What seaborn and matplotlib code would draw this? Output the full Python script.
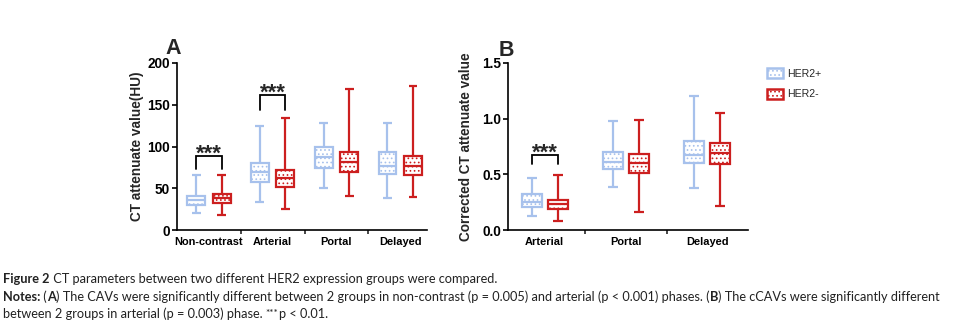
import matplotlib
matplotlib.use("Agg")
import matplotlib.pyplot as plt
import matplotlib.patches as mpatches
import seaborn as sns
import pandas as pd
import numpy as np

# ---------------- data ----------------
phases_a = ["Non-contrast", "Arterial", "Portal", "Delayed"]
phases_b = ["Arterial", "Portal", "Delayed"]
groups = ["HER2+", "HER2-"]
stat_names = ["min", "q1", "median", "q3", "max"]

# panel A: CT attenuate value (HU) - min, Q1, median, Q3, max
a_her2_pos = [[20, 30, 35.5, 41, 66],
              [33, 58, 70, 80, 124],
              [50, 74, 87, 100, 128],
              [38, 67, 77, 93, 128]]
a_her2_neg = [[17.5, 32, 38, 43, 66],
              [25, 51, 62, 72, 134],
              [41, 69, 82, 94, 169],
              [39, 66, 77, 89, 172]]

# panel B: corrected CT attenuate value
b_her2_pos = [[0.126, 0.21, 0.25, 0.32, 0.47],
              [0.39, 0.546, 0.615, 0.705, 0.98],
              [0.378, 0.60, 0.675, 0.80, 1.206]]
b_her2_neg = [[0.08, 0.19, 0.234, 0.27, 0.495],
              [0.162, 0.516, 0.606, 0.684, 0.984],
              [0.216, 0.594, 0.69, 0.78, 1.05]]

# significance brackets: (phase, bracket top, tick bottom)
sig_a = [("Non-contrast", 89, 73), ("Arterial", 162, 144)]
sig_b = [("Arterial", 0.675, 0.594)]
sig_label = "***"

yticks_a = [0, 50, 100, 150, 200]
yticks_b = [0.0, 0.5, 1.0, 1.5]

colors = {"HER2+": "#a7c1ec", "HER2-": "#cc1f1f"}

caption_lines = [
    [("Figure 2", True), (" CT parameters between two different HER2 expression groups were compared.", False)],
    [("Notes:", True), (" (", False), ("A", True),
     (") The CAVs were significantly different between 2 groups in non-contrast (p = 0.005) and arterial (p < 0.001) phases. (", False),
     ("B", True), (") The cCAVs were significantly different", False)],
    [("between 2 groups in arterial (p = 0.003) phase. ", False), ("***", "sup"), ("p < 0.01.", False)],
]


def long_df(phases, pos, neg):
    rows = []
    for i, ph in enumerate(phases):
        for g, arr in zip(groups, (pos, neg)):
            for v in arr[i]:
                rows.append({"phase": ph, "group": g, "value": v})
    return pd.DataFrame(rows)


df_a = long_df(phases_a, a_her2_pos, a_her2_neg)
df_b = long_df(phases_b, b_her2_pos, b_her2_neg)

# ---------------- style ----------------
sns.set_style("ticks")
plt.rcParams["font.family"] = ["Liberation Sans", "DejaVu Sans"]
plt.rcParams["hatch.linewidth"] = 0.7

W, H = 973, 328
fig = plt.figure(figsize=(W / 100, H / 100), dpi=100, facecolor="white")

ax_a = fig.add_axes([177 / W, 1 - 230 / H, (427 - 177) / W, (230 - 63) / H])
ax_b = fig.add_axes([508 / W, 1 - 230 / H, (748 - 508) / W, (230 - 63) / H])


def draw_panel(ax, df, phases, width, gap):
    sns.boxplot(data=df, x="phase", y="value", hue="group", order=phases,
                hue_order=groups, palette=[colors[g] for g in groups],
                whis=(0, 100), width=width, gap=gap, saturation=1,
                linewidth=1.6, legend=False, ax=ax)
    for cont, g in zip(ax.containers, groups):
        c = colors[g]
        for box in cont.boxes:
            box.set_facecolor("white")
            box.set_edgecolor(c)
            box.set_hatch("....")
            box.set_linewidth(1.6)
        for ln in list(cont.whiskers) + list(cont.caps) + list(cont.medians):
            ln.set_color(c)
            ln.set_linewidth(1.6)
            ln.set_solid_capstyle("butt")


def style_axes(ax, phases, yticks, ylim, xlim, ylabel, labx):
    ax.set_ylim(*ylim)
    ax.set_xlim(*xlim)
    ax.set_yticks(yticks)
    ax.set_xlabel("")
    ax.set_ylabel(ylabel, fontsize=9.8, fontweight="bold")
    ax.yaxis.set_label_coords(labx, 0.5)
    for s in ("top", "right"):
        ax.spines[s].set_visible(False)
    for s in ("left", "bottom"):
        ax.spines[s].set_linewidth(1.2)
        ax.spines[s].set_color("black")
    ax.spines["left"].set_bounds(ylim[0], ylim[1])
    ax.tick_params(axis="y", length=3.5, width=1.2, labelsize=9.8, pad=1.5, colors="black")
    ax.tick_params(axis="x", which="major", length=0, labelsize=7.9, pad=5, colors="black")
    ax.set_xticks(np.arange(len(phases) - 1) + 0.5, minor=True)
    ax.tick_params(axis="x", which="minor", length=3, width=1.2, direction="out")
    for lab in ax.get_xticklabels() + ax.get_yticklabels():
        lab.set_fontweight("bold")


def draw_sig(ax, phases, sigs, offset):
    for ph, top, bot in sigs:
        i = phases.index(ph)
        x0, x1 = i - offset, i + offset
        ax.plot([x0, x0, x1, x1], [bot, top, top, bot], color="black", lw=1.3,
                solid_joinstyle="miter", clip_on=False)
        ax.annotate(sig_label, xy=(i, top), xytext=(0, -2.6), textcoords="offset points",
                    ha="center", va="baseline", fontsize=16, fontweight="bold")


draw_panel(ax_a, df_a, phases_a, 0.8, 0.3)
style_axes(ax_a, phases_a, yticks_a, (0, 200), (-0.5, 3.42),
           "CT attenuate value(HU)", -0.13)
draw_sig(ax_a, phases_a, sig_a, 0.2)

draw_panel(ax_b, df_b, phases_b, 0.64, 0.23)
style_axes(ax_b, phases_b, yticks_b, (0, 1.5), (-0.45, 2.5),
           "Corrected CT attenuate value", -0.145)
ax_b.yaxis.set_major_formatter(matplotlib.ticker.FormatStrFormatter("%.1f"))
for lab in ax_b.get_yticklabels():
    lab.set_fontweight("bold")
draw_sig(ax_b, phases_b, sig_b, 0.16)

# panel letters
fig.text(173 / W, 1 - 48 / H, "A", fontsize=15.5, fontweight="bold", ha="center", va="center")
fig.text(506 / W, 1 - 50 / H, "B", fontsize=15.5, fontweight="bold", ha="center", va="center")

# legend
handles = [mpatches.Patch(facecolor="white", edgecolor=colors[g], hatch="....", linewidth=1.8, label=g)
           for g in groups]
fig.legend(handles=handles, loc="upper left", bbox_to_anchor=(767 / W, 1 - 68 / H),
           frameon=False, fontsize=7.6, handlelength=1.5, handleheight=1.1,
           handletextpad=0.45, labelspacing=0.95, borderaxespad=0, borderpad=0)

# caption
cap_font = ["Lato", "DejaVu Sans"]
renderer = fig.canvas.get_renderer()


def line_width(runs, size):
    total = 0
    for s, b in runs:
        sz = size * 0.8 if b == "sup" else size
        t = fig.text(0, 0, s, fontsize=sz, family=cap_font,
                     fontweight="bold" if b is True else "normal")
        total += t.get_window_extent(renderer).width
        t.remove()
    return total


base = 9.0
size = base * 942 / line_width(caption_lines[1], base)
baselines = [283, 301, 318]
for runs, yb in zip(caption_lines, baselines):
    x = 3.0
    for s, b in runs:
        sz = size * 0.8 if b == "sup" else size
        dy = 1.5 if b == "sup" else 0
        t = fig.text(x / W, 1 - (yb - dy) / H, s, fontsize=sz, family=cap_font,
                     fontweight="bold" if b is True else "normal", va="baseline", ha="left",
                     color="#222222")
        x += t.get_window_extent(renderer).width

fig.savefig("out.png", dpi=100, facecolor="white")
